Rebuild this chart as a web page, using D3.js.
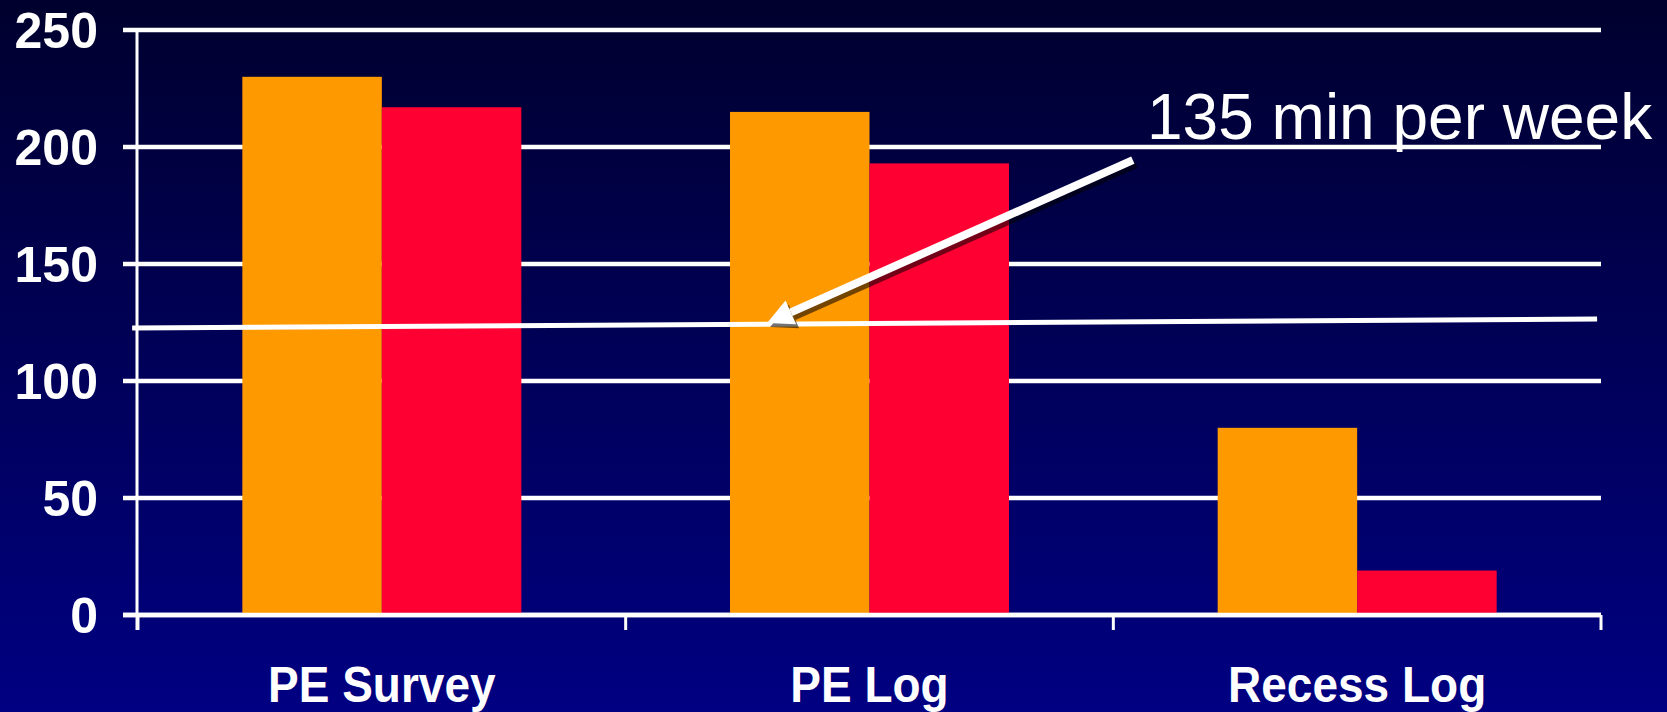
<html>
<head>
<title>Minutes per week</title>
<script src="https://cdn.jsdelivr.net/npm/d3@7"></script>
<style>
    body{ margin:0; background:#000050; }
    .lbl{
        font-family: "Liberation Sans", Arial, sans-serif;
        font-weight: bold;
        font-size: 50px;
        fill: white;
    }
    .note{
        font-family: "Liberation Sans", Arial, sans-serif;
        font-size: 64px;
        fill: white;
    }
</style>
</head>
<body>
<script>
// data
let categories = ["PE Survey", "PE Log", "Recess Log"]
let series = ["a", "b"]
let valuesA = [230, 215, 80]
let valuesB = [217, 193, 19]
let yTicks = [0, 50, 100, 150, 200, 250]
// reference line and arrow, x in category units, y in minutes
let refLine = [[-0.012, 122.6], [2.992, 126.5]]
let arrowFrom = [2.04, 194.4]
let arrowTo = [1.29, 124.8]
let noteText = "135 min per week"

let w = 1667
let h = 712
let x0 = 138, x1 = 1601
let colors = {a: "#ff9900", b: "#ff0033"}

let svg = d3.select("body").append("svg")
    .attr("width", w)
    .attr("height", h)

// background gradient
let grad = svg.append("defs").append("linearGradient")
    .attr("id", "bg")
    .attr("x1", 0).attr("y1", 0).attr("x2", 0).attr("y2", 1)
grad.append("stop").attr("offset", 0).attr("stop-color", "#00002e")
grad.append("stop").attr("offset", 1).attr("stop-color", "#000082")
svg.append("rect").attr("width", w).attr("height", h).attr("fill", "url(#bg)")

let yScale = d3.scaleLinear().domain([0, 250]).range([615, 30])
let xBand = d3.scaleBand().domain(categories).range([x0, x1]).padding(0)
let xInner = d3.scaleBand().domain(series).range([0, xBand.bandwidth()])
    .paddingInner(0).paddingOuter(0.748)
let xLin = d3.scaleLinear().domain([0, 3]).range([x0, x1])

// gridlines
svg.append("g").selectAll("line")
    .data(yTicks)
    .enter().append("line")
    .attr("x1", x0 - 15)
    .attr("x2", x1)
    .attr("y1", d => yScale(d))
    .attr("y2", d => yScale(d))
    .attr("stroke", "white")
    .attr("stroke-width", 4.5)

// y axis line
svg.append("line")
    .attr("x1", x0 - 1).attr("x2", x0 - 1)
    .attr("y1", yScale(250)).attr("y2", yScale(0) + 15)
    .attr("stroke", "white").attr("stroke-width", 3)

// x ticks
svg.append("g").selectAll("line")
    .data(d3.range(4))
    .enter().append("line")
    .attr("x1", d => xLin(d)).attr("x2", d => xLin(d))
    .attr("y1", yScale(0)).attr("y2", yScale(0) + 15)
    .attr("stroke", "white").attr("stroke-width", 3)

// bars
let rows = categories.map((c, i) => ({cat: c, a: valuesA[i], b: valuesB[i]}))
let groups = svg.append("g").selectAll("g")
    .data(rows)
    .enter().append("g")
    .attr("transform", d => "translate(" + xBand(d.cat) + ",0)")
groups.selectAll("rect")
    .data(d => series.map(s => ({s: s, v: d[s]})))
    .enter().append("rect")
    .attr("x", d => xInner(d.s))
    .attr("width", xInner.bandwidth())
    .attr("y", d => yScale(d.v))
    .attr("height", d => yScale(0) - yScale(d.v))
    .attr("fill", d => colors[d.s])

// zero line on top of bars
svg.append("line")
    .attr("x1", x0 - 15).attr("x2", x1)
    .attr("y1", yScale(0)).attr("y2", yScale(0))
    .attr("stroke", "white").attr("stroke-width", 4.5)

// y labels
svg.append("g").selectAll("text")
    .data(yTicks)
    .enter().append("text")
    .attr("class", "lbl")
    .attr("text-anchor", "end")
    .attr("transform", d => "translate(98," + (yScale(d) + 18) + ")")
    .text(d => d)

// x labels
svg.append("g").selectAll("text")
    .data(categories)
    .enter().append("text")
    .attr("class", "lbl")
    .attr("text-anchor", "middle")
    .attr("transform", d => "translate(" + (xBand(d) + xBand.bandwidth() / 2) + ",702) scale(0.92,1)")
    .text(d => d)

// reference line
let line = d3.line().x(d => xLin(d[0])).y(d => yScale(d[1]))
svg.append("path")
    .datum(refLine)
    .attr("d", line)
    .attr("stroke", "white")
    .attr("stroke-width", 5)
    .attr("fill", "none")

// arrow
function drawArrow(g, dx, dy, col, op){
    let sx = xLin(arrowFrom[0]) + dx, sy = yScale(arrowFrom[1]) + dy
    let tx = xLin(arrowTo[0]) + dx, ty = yScale(arrowTo[1]) + dy
    let len = Math.hypot(sx - tx, sy - ty)
    let ux = (sx - tx) / len, uy = (sy - ty) / len
    let hl = 26, hw = 13
    let bx = tx + ux * hl, by = ty + uy * hl
    g.append("line")
        .attr("x1", sx).attr("y1", sy).attr("x2", bx).attr("y2", by)
        .attr("stroke", col).attr("stroke-width", 8).attr("opacity", op)
    g.append("path")
        .attr("d", "M" + tx + "," + ty + "L" + (bx - uy * hw) + "," + (by + ux * hw) +
            "L" + (bx + uy * hw) + "," + (by - ux * hw) + "Z")
        .attr("fill", col).attr("opacity", op)
}
let arrowG = svg.append("g")
drawArrow(arrowG, 3, 4, "black", 0.55)
drawArrow(arrowG, 0, 0, "white", 1)

// note
svg.append("text")
    .attr("class", "note")
    .attr("x", 1147)
    .attr("y", 139)
    .text(noteText)
</script>
</body>
</html>
